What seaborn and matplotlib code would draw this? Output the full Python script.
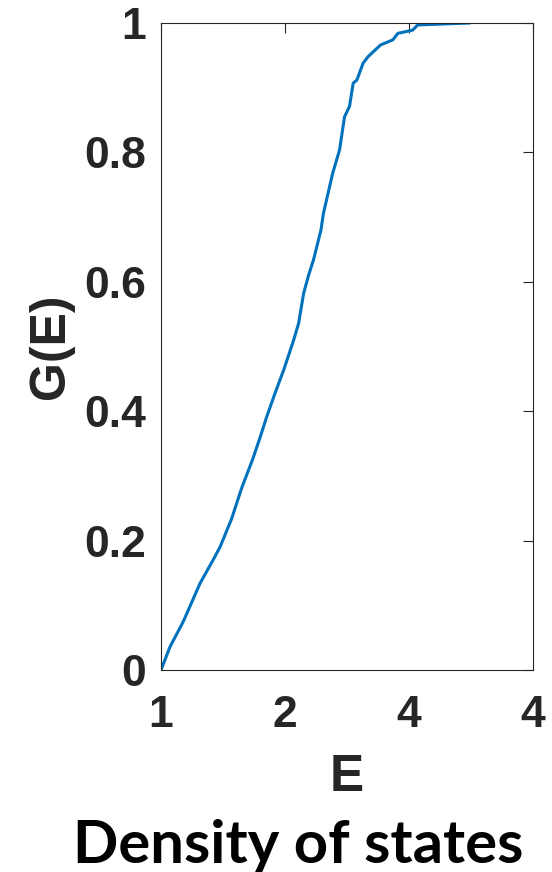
import numpy as np
import pandas as pd
import seaborn as sns
import matplotlib.pyplot as plt

# Integrated density of states
energy = [1.0, 1.073, 1.18, 1.315, 1.42, 1.476, 1.57, 1.65, 1.74, 1.80, 1.85,
          1.92, 1.99, 2.07, 2.11, 2.15, 2.19, 2.23, 2.256, 2.29, 2.31, 2.385,
          2.44, 2.48, 2.52, 2.55, 2.58, 2.63, 2.67, 2.77, 2.87, 2.91, 3.03,
          3.07, 3.49]
g_of_e = [0.0, 0.036, 0.075, 0.134, 0.17, 0.19, 0.234, 0.281, 0.326, 0.36,
          0.39, 0.428, 0.464, 0.51, 0.536, 0.582, 0.61, 0.634, 0.654, 0.68,
          0.706, 0.768, 0.804, 0.855, 0.871, 0.907, 0.912, 0.938, 0.948,
          0.966, 0.974, 0.984, 0.989, 0.997, 1.0]

x_ticks = [1, 2, 3, 4]
x_ticklabels = ['1', '2', '4', '4']
y_ticks = [0, 0.2, 0.4, 0.6, 0.8, 1]
y_ticklabels = ['0', '0.2', '0.4', '0.6', '0.8', '1']

sns.set_style('white')
plt.rcParams['font.family'] = ['Liberation Sans', 'DejaVu Sans']

df = pd.DataFrame({'E': energy, 'G': g_of_e})

fig = plt.figure(figsize=(5.52, 8.72), dpi=100)
ax = fig.add_axes([161 / 552, 1 - 670 / 872, 372 / 552, 647 / 872])
sns.lineplot(data=df, x='E', y='G', ax=ax, color='#0072BD', linewidth=2.2,
             sort=False)

ax.set_xlim(1, 4)
ax.set_ylim(0, 1)
ax.set_xticks(x_ticks)
ax.set_xticklabels(x_ticklabels)
ax.set_yticks(y_ticks)
ax.set_yticklabels(y_ticklabels)

axis_color = '#262626'
for s in ax.spines.values():
    s.set_visible(True)
    s.set_color(axis_color)
    s.set_linewidth(0.8)
ax.tick_params(direction='in', length=7, width=0.8, color=axis_color,
               top=True, right=True, labelsize=32, labelcolor=axis_color)
ax.tick_params(axis='x', pad=18)
ax.tick_params(axis='y', pad=11)
for lab in ax.get_xticklabels() + ax.get_yticklabels():
    lab.set_fontweight('bold')

ax.set_xlabel('E', fontsize=37, fontweight='bold', color=axis_color, labelpad=12)
ax.set_ylabel('G(E)', fontsize=36, fontweight='bold', color=axis_color, labelpad=7)

fig.text(0.54, 9 / 872, 'Density of states', ha='center', va='baseline',
         fontsize=43, fontweight='bold', color='black', family=['Lato', 'DejaVu Sans'])

fig.savefig('out.png', dpi=100)
